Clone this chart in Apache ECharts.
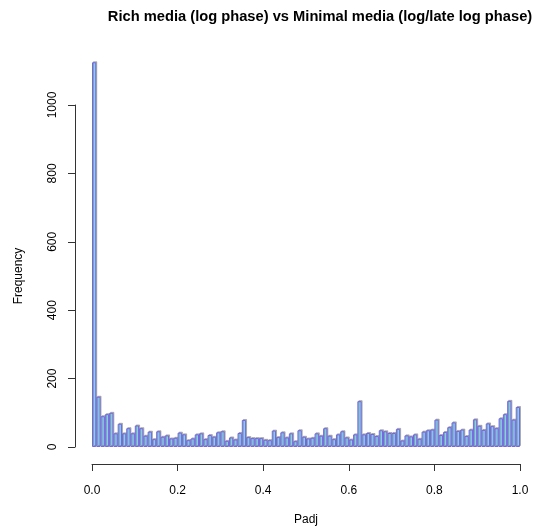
<!DOCTYPE html>
<html>
<head>
<meta charset="utf-8">
<script src="https://cdn.jsdelivr.net/npm/echarts@6/dist/echarts.min.js"></script>
<style>
  html, body { margin: 0; padding: 0; background: #ffffff; }
  #chart { width: 539px; height: 531px; }
</style>
</head>
<body>
<div id="chart"></div>
<script>
// Histogram of adjusted p-values, 100 bins of width 0.01 on [0, 1]
const binWidth = 0.01;
const counts = [
  1125, 147, 90, 96, 100, 40, 68, 40, 55, 40,
  63, 55, 33, 45, 23, 46, 30, 34, 25, 27,
  42, 37, 20, 25, 37, 40, 23, 35, 30, 43,
  46, 18, 28, 22, 41, 79, 29, 26, 26, 26,
  21, 20, 48, 29, 43, 28, 40, 17, 49, 30,
  25, 27, 40, 33, 55, 33, 23, 37, 46, 28,
  22, 37, 134, 37, 41, 38, 32, 49, 46, 41,
  41, 53, 19, 34, 31, 37, 24, 45, 49, 51,
  80, 35, 44, 58, 72, 47, 51, 32, 51, 81,
  62, 50, 69, 61, 55, 84, 96, 135, 80, 117
];
const xTicks = [0, 0.2, 0.4, 0.6, 0.8, 1.0];
const yTicks = [0, 200, 400, 600, 800, 1000];

const binLabels = counts.map((_, i) =>
  (i * binWidth).toFixed(2) + '-' + ((i + 1) * binWidth).toFixed(2));

const FONT = "'Liberation Sans', Arial, Helvetica, sans-serif";
const AXIS_COLOR = '#333333';

// pixel scale shared by both grids: 0.342 px per count
const plotBottom = 84;           // distance from bottom edge to the zero line
const pxPerCount = 0.342;
const barMax = 1200;
const barTop = 531 - plotBottom - barMax * pxPerCount;

const axisLineStyle = { color: AXIS_COLOR, width: 1 };

const chart = echarts.init(document.getElementById('chart'), null, { renderer: 'canvas' });

chart.setOption({
  backgroundColor: '#ffffff',
  animation: false,
  title: {
    text: 'Rich media (log phase) vs Minimal media (log/late log phase)',
    left: 320,
    top: 9,
    padding: 0,
    textAlign: 'center',
    textStyle: { fontFamily: FONT, fontSize: 14.7, fontWeight: 'bold', color: '#000000' }
  },
  grid: [
    { left: 92, right: 19, top: barTop, bottom: plotBottom },
    { left: 92, right: 19, top: 531 - plotBottom - 1000 * pxPerCount, bottom: plotBottom }
  ],
  xAxis: [
    {
      gridIndex: 0, type: 'category', data: binLabels, show: false,
      boundaryGap: true
    },
    {
      gridIndex: 1, type: 'value', position: 'bottom',
      min: xTicks[0], max: xTicks[xTicks.length - 1],
      interval: 0.2, offset: 17,
      axisLine: { show: true, onZero: false, lineStyle: axisLineStyle },
      axisTick: { show: true, inside: false, length: 7, lineStyle: axisLineStyle },
      axisLabel: {
        show: true, margin: 21, color: '#000000', fontFamily: FONT, fontSize: 12,
        formatter: v => v.toFixed(1)
      },
      splitLine: { show: false },
      name: 'Padj', nameLocation: 'middle', nameGap: 50,
      nameTextStyle: { fontFamily: FONT, fontSize: 12, color: '#000000' }
    }
  ],
  yAxis: [
    {
      gridIndex: 0, type: 'value', min: 0, max: barMax, show: false
    },
    {
      gridIndex: 1, type: 'value', position: 'left',
      min: yTicks[0], max: yTicks[yTicks.length - 1],
      interval: 200, offset: 17,
      axisLine: { show: true, onZero: false, lineStyle: axisLineStyle },
      axisTick: { show: true, inside: false, length: 7, lineStyle: axisLineStyle },
      axisLabel: {
        show: true, rotate: 90, margin: 16, color: '#000000', fontFamily: FONT, fontSize: 12,
        formatter: v => String(v)
      },
      splitLine: { show: false },
      name: 'Frequency', nameLocation: 'middle', nameRotate: 90, nameGap: 50,
      nameTextStyle: { fontFamily: FONT, fontSize: 12, color: '#000000' }
    }
  ],
  series: [
    {
      type: 'bar',
      xAxisIndex: 0,
      yAxisIndex: 0,
      data: counts,
      barCategoryGap: '0%',
      barGap: '0%',
      silent: true,
      itemStyle: {
        color: '#87ceeb',
        borderColor: '#7566e0',
        borderWidth: 1,
        shadowColor: 'rgba(110,110,110,0.45)',
        shadowOffsetX: 1,
        shadowOffsetY: -1,
        shadowBlur: 0
      }
    }
  ]
});
</script>
</body>
</html>
